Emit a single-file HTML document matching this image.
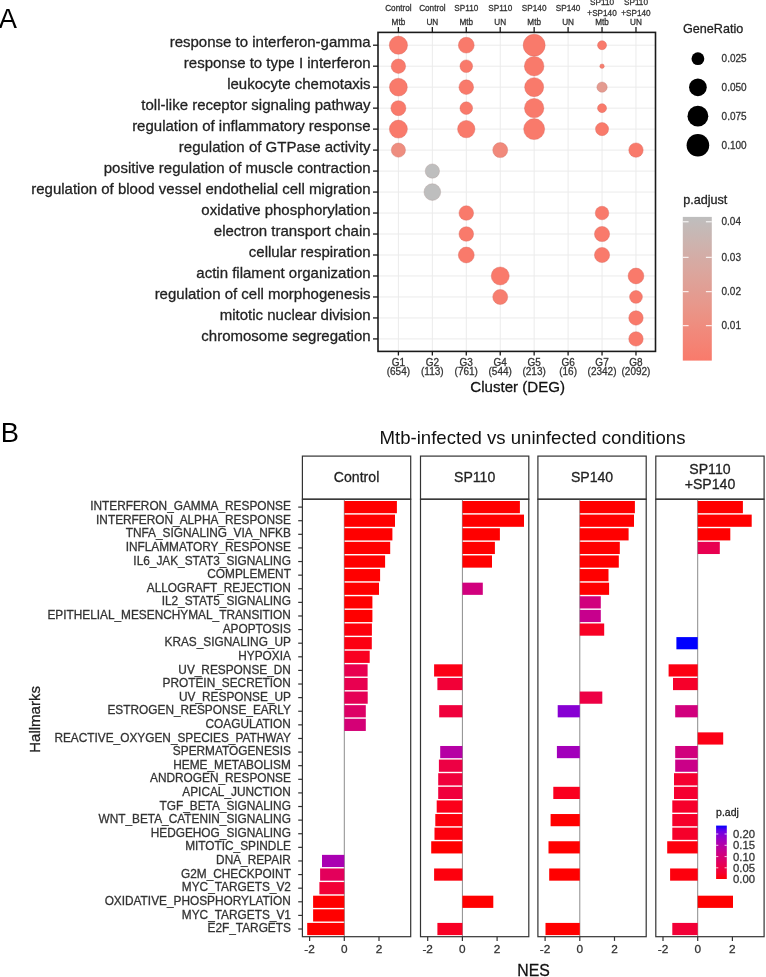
<!DOCTYPE html>
<html><head><meta charset="utf-8"><style>
html,body{margin:0;padding:0;background:#fff;width:766px;height:977px;overflow:hidden}
svg{display:block;will-change:transform}
text{stroke-width:0.28px}
</style></head><body>
<svg width="766" height="977" viewBox="0 0 766 977"><line x1="398.40" y1="32.4" x2="398.40" y2="351.4" stroke="#ebebeb" stroke-width="1"/>
<line x1="432.34" y1="32.4" x2="432.34" y2="351.4" stroke="#ebebeb" stroke-width="1"/>
<line x1="466.28" y1="32.4" x2="466.28" y2="351.4" stroke="#ebebeb" stroke-width="1"/>
<line x1="500.22" y1="32.4" x2="500.22" y2="351.4" stroke="#ebebeb" stroke-width="1"/>
<line x1="534.16" y1="32.4" x2="534.16" y2="351.4" stroke="#ebebeb" stroke-width="1"/>
<line x1="568.10" y1="32.4" x2="568.10" y2="351.4" stroke="#ebebeb" stroke-width="1"/>
<line x1="602.04" y1="32.4" x2="602.04" y2="351.4" stroke="#ebebeb" stroke-width="1"/>
<line x1="635.98" y1="32.4" x2="635.98" y2="351.4" stroke="#ebebeb" stroke-width="1"/>
<line x1="378.0" y1="45.20" x2="655.5" y2="45.20" stroke="#ebebeb" stroke-width="1"/>
<line x1="378.0" y1="66.18" x2="655.5" y2="66.18" stroke="#ebebeb" stroke-width="1"/>
<line x1="378.0" y1="87.16" x2="655.5" y2="87.16" stroke="#ebebeb" stroke-width="1"/>
<line x1="378.0" y1="108.14" x2="655.5" y2="108.14" stroke="#ebebeb" stroke-width="1"/>
<line x1="378.0" y1="129.12" x2="655.5" y2="129.12" stroke="#ebebeb" stroke-width="1"/>
<line x1="378.0" y1="150.10" x2="655.5" y2="150.10" stroke="#ebebeb" stroke-width="1"/>
<line x1="378.0" y1="171.08" x2="655.5" y2="171.08" stroke="#ebebeb" stroke-width="1"/>
<line x1="378.0" y1="192.06" x2="655.5" y2="192.06" stroke="#ebebeb" stroke-width="1"/>
<line x1="378.0" y1="213.04" x2="655.5" y2="213.04" stroke="#ebebeb" stroke-width="1"/>
<line x1="378.0" y1="234.02" x2="655.5" y2="234.02" stroke="#ebebeb" stroke-width="1"/>
<line x1="378.0" y1="255.00" x2="655.5" y2="255.00" stroke="#ebebeb" stroke-width="1"/>
<line x1="378.0" y1="275.98" x2="655.5" y2="275.98" stroke="#ebebeb" stroke-width="1"/>
<line x1="378.0" y1="296.96" x2="655.5" y2="296.96" stroke="#ebebeb" stroke-width="1"/>
<line x1="378.0" y1="317.94" x2="655.5" y2="317.94" stroke="#ebebeb" stroke-width="1"/>
<line x1="378.0" y1="338.92" x2="655.5" y2="338.92" stroke="#ebebeb" stroke-width="1"/>
<circle cx="398.40" cy="45.20" r="9.10" fill="#f97a6b" stroke="#d96b60" stroke-width="0.6" stroke-opacity="0.7"/>
<circle cx="398.40" cy="66.18" r="7.20" fill="#f97a6b" stroke="#d96b60" stroke-width="0.6" stroke-opacity="0.7"/>
<circle cx="398.40" cy="87.16" r="8.90" fill="#f97a6b" stroke="#d96b60" stroke-width="0.6" stroke-opacity="0.7"/>
<circle cx="398.40" cy="108.14" r="7.50" fill="#f97a6b" stroke="#d96b60" stroke-width="0.6" stroke-opacity="0.7"/>
<circle cx="398.40" cy="129.12" r="9.00" fill="#f97a6b" stroke="#d96b60" stroke-width="0.6" stroke-opacity="0.7"/>
<circle cx="398.40" cy="150.10" r="7.10" fill="#ee8d7f" stroke="#d1796f" stroke-width="0.6" stroke-opacity="0.7"/>
<circle cx="432.34" cy="171.08" r="7.15" fill="#bebebe" stroke="#b19e9c" stroke-width="0.6" stroke-opacity="0.7"/>
<circle cx="432.34" cy="192.06" r="8.35" fill="#bebebe" stroke="#b19e9c" stroke-width="0.6" stroke-opacity="0.7"/>
<circle cx="466.28" cy="45.20" r="7.90" fill="#f97a6b" stroke="#d96b60" stroke-width="0.6" stroke-opacity="0.7"/>
<circle cx="466.28" cy="66.18" r="6.30" fill="#f97a6b" stroke="#d96b60" stroke-width="0.6" stroke-opacity="0.7"/>
<circle cx="466.28" cy="87.16" r="7.30" fill="#f97a6b" stroke="#d96b60" stroke-width="0.6" stroke-opacity="0.7"/>
<circle cx="466.28" cy="108.14" r="6.30" fill="#f97a6b" stroke="#d96b60" stroke-width="0.6" stroke-opacity="0.7"/>
<circle cx="466.28" cy="129.12" r="8.70" fill="#f97a6b" stroke="#d96b60" stroke-width="0.6" stroke-opacity="0.7"/>
<circle cx="466.28" cy="213.04" r="7.30" fill="#f97a6b" stroke="#d96b60" stroke-width="0.6" stroke-opacity="0.7"/>
<circle cx="466.28" cy="234.02" r="7.30" fill="#f97a6b" stroke="#d96b60" stroke-width="0.6" stroke-opacity="0.7"/>
<circle cx="466.28" cy="255.00" r="7.95" fill="#f97a6b" stroke="#d96b60" stroke-width="0.6" stroke-opacity="0.7"/>
<circle cx="500.22" cy="150.10" r="7.50" fill="#f1897b" stroke="#d4766c" stroke-width="0.6" stroke-opacity="0.7"/>
<circle cx="500.22" cy="275.98" r="9.00" fill="#f97a6b" stroke="#d96b60" stroke-width="0.6" stroke-opacity="0.7"/>
<circle cx="500.22" cy="296.96" r="7.50" fill="#f77e6f" stroke="#d86e63" stroke-width="0.6" stroke-opacity="0.7"/>
<circle cx="534.16" cy="45.20" r="11.00" fill="#f97a6b" stroke="#d96b60" stroke-width="0.6" stroke-opacity="0.7"/>
<circle cx="534.16" cy="66.18" r="9.80" fill="#f97a6b" stroke="#d96b60" stroke-width="0.6" stroke-opacity="0.7"/>
<circle cx="534.16" cy="87.16" r="9.50" fill="#f97a6b" stroke="#d96b60" stroke-width="0.6" stroke-opacity="0.7"/>
<circle cx="534.16" cy="108.14" r="9.70" fill="#f97a6b" stroke="#d96b60" stroke-width="0.6" stroke-opacity="0.7"/>
<circle cx="534.16" cy="129.12" r="10.50" fill="#f97a6b" stroke="#d96b60" stroke-width="0.6" stroke-opacity="0.7"/>
<circle cx="602.04" cy="45.20" r="4.50" fill="#f97a6b" stroke="#d96b60" stroke-width="0.6" stroke-opacity="0.7"/>
<circle cx="602.04" cy="66.18" r="2.20" fill="#f77e6f" stroke="#d86e63" stroke-width="0.6" stroke-opacity="0.7"/>
<circle cx="602.04" cy="87.16" r="5.15" fill="#e49b90" stroke="#ca837b" stroke-width="0.6" stroke-opacity="0.7"/>
<circle cx="602.04" cy="108.14" r="4.50" fill="#f97a6b" stroke="#d96b60" stroke-width="0.6" stroke-opacity="0.7"/>
<circle cx="602.04" cy="129.12" r="6.55" fill="#f97a6b" stroke="#d96b60" stroke-width="0.6" stroke-opacity="0.7"/>
<circle cx="602.04" cy="213.04" r="6.80" fill="#f97a6b" stroke="#d96b60" stroke-width="0.6" stroke-opacity="0.7"/>
<circle cx="602.04" cy="234.02" r="7.60" fill="#f97a6b" stroke="#d96b60" stroke-width="0.6" stroke-opacity="0.7"/>
<circle cx="602.04" cy="255.00" r="7.60" fill="#f97a6b" stroke="#d96b60" stroke-width="0.6" stroke-opacity="0.7"/>
<circle cx="635.98" cy="150.10" r="7.20" fill="#f97a6b" stroke="#d96b60" stroke-width="0.6" stroke-opacity="0.7"/>
<circle cx="635.98" cy="275.98" r="7.90" fill="#f97a6b" stroke="#d96b60" stroke-width="0.6" stroke-opacity="0.7"/>
<circle cx="635.98" cy="296.96" r="6.40" fill="#f97a6b" stroke="#d96b60" stroke-width="0.6" stroke-opacity="0.7"/>
<circle cx="635.98" cy="317.94" r="7.20" fill="#f97a6b" stroke="#d96b60" stroke-width="0.6" stroke-opacity="0.7"/>
<circle cx="635.98" cy="338.92" r="7.20" fill="#f97a6b" stroke="#d96b60" stroke-width="0.6" stroke-opacity="0.7"/>
<rect x="378.0" y="32.4" width="277.5" height="319.0" fill="none" stroke="#1a1a1a" stroke-width="1.6"/>
<line x1="373" y1="45.20" x2="378.0" y2="45.20" stroke="#1a1a1a" stroke-width="1.3"/>
<line x1="373" y1="66.18" x2="378.0" y2="66.18" stroke="#1a1a1a" stroke-width="1.3"/>
<line x1="373" y1="87.16" x2="378.0" y2="87.16" stroke="#1a1a1a" stroke-width="1.3"/>
<line x1="373" y1="108.14" x2="378.0" y2="108.14" stroke="#1a1a1a" stroke-width="1.3"/>
<line x1="373" y1="129.12" x2="378.0" y2="129.12" stroke="#1a1a1a" stroke-width="1.3"/>
<line x1="373" y1="150.10" x2="378.0" y2="150.10" stroke="#1a1a1a" stroke-width="1.3"/>
<line x1="373" y1="171.08" x2="378.0" y2="171.08" stroke="#1a1a1a" stroke-width="1.3"/>
<line x1="373" y1="192.06" x2="378.0" y2="192.06" stroke="#1a1a1a" stroke-width="1.3"/>
<line x1="373" y1="213.04" x2="378.0" y2="213.04" stroke="#1a1a1a" stroke-width="1.3"/>
<line x1="373" y1="234.02" x2="378.0" y2="234.02" stroke="#1a1a1a" stroke-width="1.3"/>
<line x1="373" y1="255.00" x2="378.0" y2="255.00" stroke="#1a1a1a" stroke-width="1.3"/>
<line x1="373" y1="275.98" x2="378.0" y2="275.98" stroke="#1a1a1a" stroke-width="1.3"/>
<line x1="373" y1="296.96" x2="378.0" y2="296.96" stroke="#1a1a1a" stroke-width="1.3"/>
<line x1="373" y1="317.94" x2="378.0" y2="317.94" stroke="#1a1a1a" stroke-width="1.3"/>
<line x1="373" y1="338.92" x2="378.0" y2="338.92" stroke="#1a1a1a" stroke-width="1.3"/>
<line x1="398.40" y1="27" x2="398.40" y2="32.4" stroke="#1a1a1a" stroke-width="1.3"/>
<line x1="398.40" y1="351.4" x2="398.40" y2="355.5" stroke="#1a1a1a" stroke-width="1.3"/>
<line x1="432.34" y1="27" x2="432.34" y2="32.4" stroke="#1a1a1a" stroke-width="1.3"/>
<line x1="432.34" y1="351.4" x2="432.34" y2="355.5" stroke="#1a1a1a" stroke-width="1.3"/>
<line x1="466.28" y1="27" x2="466.28" y2="32.4" stroke="#1a1a1a" stroke-width="1.3"/>
<line x1="466.28" y1="351.4" x2="466.28" y2="355.5" stroke="#1a1a1a" stroke-width="1.3"/>
<line x1="500.22" y1="27" x2="500.22" y2="32.4" stroke="#1a1a1a" stroke-width="1.3"/>
<line x1="500.22" y1="351.4" x2="500.22" y2="355.5" stroke="#1a1a1a" stroke-width="1.3"/>
<line x1="534.16" y1="27" x2="534.16" y2="32.4" stroke="#1a1a1a" stroke-width="1.3"/>
<line x1="534.16" y1="351.4" x2="534.16" y2="355.5" stroke="#1a1a1a" stroke-width="1.3"/>
<line x1="568.10" y1="27" x2="568.10" y2="32.4" stroke="#1a1a1a" stroke-width="1.3"/>
<line x1="568.10" y1="351.4" x2="568.10" y2="355.5" stroke="#1a1a1a" stroke-width="1.3"/>
<line x1="602.04" y1="27" x2="602.04" y2="32.4" stroke="#1a1a1a" stroke-width="1.3"/>
<line x1="602.04" y1="351.4" x2="602.04" y2="355.5" stroke="#1a1a1a" stroke-width="1.3"/>
<line x1="635.98" y1="27" x2="635.98" y2="32.4" stroke="#1a1a1a" stroke-width="1.3"/>
<line x1="635.98" y1="351.4" x2="635.98" y2="355.5" stroke="#1a1a1a" stroke-width="1.3"/>
<text x="370.6" y="47.20" text-anchor="end" font-size="15" fill="#222" stroke="#222" font-family="Liberation Sans, sans-serif">response to interferon-gamma</text>
<text x="370.6" y="68.18" text-anchor="end" font-size="15" fill="#222" stroke="#222" font-family="Liberation Sans, sans-serif">response to type I interferon</text>
<text x="370.6" y="89.16" text-anchor="end" font-size="15" fill="#222" stroke="#222" font-family="Liberation Sans, sans-serif">leukocyte chemotaxis</text>
<text x="370.6" y="110.14" text-anchor="end" font-size="15" fill="#222" stroke="#222" font-family="Liberation Sans, sans-serif">toll-like receptor signaling pathway</text>
<text x="370.6" y="131.12" text-anchor="end" font-size="15" fill="#222" stroke="#222" font-family="Liberation Sans, sans-serif">regulation of inflammatory response</text>
<text x="370.6" y="152.10" text-anchor="end" font-size="15" fill="#222" stroke="#222" font-family="Liberation Sans, sans-serif">regulation of GTPase activity</text>
<text x="370.6" y="173.08" text-anchor="end" font-size="15" fill="#222" stroke="#222" font-family="Liberation Sans, sans-serif">positive regulation of muscle contraction</text>
<text x="370.6" y="194.06" text-anchor="end" font-size="15" fill="#222" stroke="#222" font-family="Liberation Sans, sans-serif">regulation of blood vessel endothelial cell migration</text>
<text x="370.6" y="215.04" text-anchor="end" font-size="15" fill="#222" stroke="#222" font-family="Liberation Sans, sans-serif">oxidative phosphorylation</text>
<text x="370.6" y="236.02" text-anchor="end" font-size="15" fill="#222" stroke="#222" font-family="Liberation Sans, sans-serif">electron transport chain</text>
<text x="370.6" y="257.00" text-anchor="end" font-size="15" fill="#222" stroke="#222" font-family="Liberation Sans, sans-serif">cellular respiration</text>
<text x="370.6" y="277.98" text-anchor="end" font-size="15" fill="#222" stroke="#222" font-family="Liberation Sans, sans-serif">actin filament organization</text>
<text x="370.6" y="298.96" text-anchor="end" font-size="15" fill="#222" stroke="#222" font-family="Liberation Sans, sans-serif">regulation of cell morphogenesis</text>
<text x="370.6" y="319.94" text-anchor="end" font-size="15" fill="#222" stroke="#222" font-family="Liberation Sans, sans-serif">mitotic nuclear division</text>
<text x="370.6" y="340.92" text-anchor="end" font-size="15" fill="#222" stroke="#222" font-family="Liberation Sans, sans-serif">chromosome segregation</text>
<text x="398.40" y="10.9" text-anchor="middle" font-size="8.2" fill="#333" stroke="#333" font-family="Liberation Sans, sans-serif">Control</text>
<text x="398.40" y="25.2" text-anchor="middle" font-size="8.2" fill="#333" stroke="#333" font-family="Liberation Sans, sans-serif">Mtb</text>
<text x="432.34" y="10.9" text-anchor="middle" font-size="8.2" fill="#333" stroke="#333" font-family="Liberation Sans, sans-serif">Control</text>
<text x="432.34" y="25.2" text-anchor="middle" font-size="8.2" fill="#333" stroke="#333" font-family="Liberation Sans, sans-serif">UN</text>
<text x="466.28" y="10.9" text-anchor="middle" font-size="8.2" fill="#333" stroke="#333" font-family="Liberation Sans, sans-serif">SP110</text>
<text x="466.28" y="25.2" text-anchor="middle" font-size="8.2" fill="#333" stroke="#333" font-family="Liberation Sans, sans-serif">Mtb</text>
<text x="500.22" y="10.9" text-anchor="middle" font-size="8.2" fill="#333" stroke="#333" font-family="Liberation Sans, sans-serif">SP110</text>
<text x="500.22" y="25.2" text-anchor="middle" font-size="8.2" fill="#333" stroke="#333" font-family="Liberation Sans, sans-serif">UN</text>
<text x="534.16" y="10.9" text-anchor="middle" font-size="8.2" fill="#333" stroke="#333" font-family="Liberation Sans, sans-serif">SP140</text>
<text x="534.16" y="25.2" text-anchor="middle" font-size="8.2" fill="#333" stroke="#333" font-family="Liberation Sans, sans-serif">Mtb</text>
<text x="568.10" y="10.9" text-anchor="middle" font-size="8.2" fill="#333" stroke="#333" font-family="Liberation Sans, sans-serif">SP140</text>
<text x="568.10" y="25.2" text-anchor="middle" font-size="8.2" fill="#333" stroke="#333" font-family="Liberation Sans, sans-serif">UN</text>
<text x="602.04" y="5.4" text-anchor="middle" font-size="8.2" fill="#333" stroke="#333" font-family="Liberation Sans, sans-serif">SP110</text>
<text x="602.04" y="16.4" text-anchor="middle" font-size="8.2" fill="#333" stroke="#333" font-family="Liberation Sans, sans-serif">+SP140</text>
<text x="602.04" y="25.3" text-anchor="middle" font-size="8.2" fill="#333" stroke="#333" font-family="Liberation Sans, sans-serif">Mtb</text>
<text x="635.98" y="5.4" text-anchor="middle" font-size="8.2" fill="#333" stroke="#333" font-family="Liberation Sans, sans-serif">SP110</text>
<text x="635.98" y="16.4" text-anchor="middle" font-size="8.2" fill="#333" stroke="#333" font-family="Liberation Sans, sans-serif">+SP140</text>
<text x="635.98" y="25.3" text-anchor="middle" font-size="8.2" fill="#333" stroke="#333" font-family="Liberation Sans, sans-serif">UN</text>
<text x="398.40" y="366.2" text-anchor="middle" font-size="10" fill="#333" stroke="#333" font-family="Liberation Sans, sans-serif">G1</text>
<text x="398.40" y="375.2" text-anchor="middle" font-size="10" fill="#333" stroke="#333" font-family="Liberation Sans, sans-serif">(654)</text>
<text x="432.34" y="366.2" text-anchor="middle" font-size="10" fill="#333" stroke="#333" font-family="Liberation Sans, sans-serif">G2</text>
<text x="432.34" y="375.2" text-anchor="middle" font-size="10" fill="#333" stroke="#333" font-family="Liberation Sans, sans-serif">(113)</text>
<text x="466.28" y="366.2" text-anchor="middle" font-size="10" fill="#333" stroke="#333" font-family="Liberation Sans, sans-serif">G3</text>
<text x="466.28" y="375.2" text-anchor="middle" font-size="10" fill="#333" stroke="#333" font-family="Liberation Sans, sans-serif">(761)</text>
<text x="500.22" y="366.2" text-anchor="middle" font-size="10" fill="#333" stroke="#333" font-family="Liberation Sans, sans-serif">G4</text>
<text x="500.22" y="375.2" text-anchor="middle" font-size="10" fill="#333" stroke="#333" font-family="Liberation Sans, sans-serif">(544)</text>
<text x="534.16" y="366.2" text-anchor="middle" font-size="10" fill="#333" stroke="#333" font-family="Liberation Sans, sans-serif">G5</text>
<text x="534.16" y="375.2" text-anchor="middle" font-size="10" fill="#333" stroke="#333" font-family="Liberation Sans, sans-serif">(213)</text>
<text x="568.10" y="366.2" text-anchor="middle" font-size="10" fill="#333" stroke="#333" font-family="Liberation Sans, sans-serif">G6</text>
<text x="568.10" y="375.2" text-anchor="middle" font-size="10" fill="#333" stroke="#333" font-family="Liberation Sans, sans-serif">(16)</text>
<text x="602.04" y="366.2" text-anchor="middle" font-size="10" fill="#333" stroke="#333" font-family="Liberation Sans, sans-serif">G7</text>
<text x="602.04" y="375.2" text-anchor="middle" font-size="10" fill="#333" stroke="#333" font-family="Liberation Sans, sans-serif">(2342)</text>
<text x="635.98" y="366.2" text-anchor="middle" font-size="10" fill="#333" stroke="#333" font-family="Liberation Sans, sans-serif">G8</text>
<text x="635.98" y="375.2" text-anchor="middle" font-size="10" fill="#333" stroke="#333" font-family="Liberation Sans, sans-serif">(2092)</text>
<text x="517.7" y="391.8" text-anchor="middle" font-size="15.1" fill="#111" stroke="#111" font-family="Liberation Sans, sans-serif">Cluster (DEG)</text>
<text x="683.0" y="32.8" font-size="12.6" fill="#222" stroke="#222" font-family="Liberation Sans, sans-serif">GeneRatio</text>
<circle cx="697.9" cy="58.7" r="6.4" fill="#000"/>
<text x="721.6" y="62.300000000000004" font-size="10" fill="#333" stroke="#333" font-family="Liberation Sans, sans-serif">0.025</text>
<circle cx="697.9" cy="87.3" r="8.85" fill="#000"/>
<text x="721.6" y="90.89999999999999" font-size="10" fill="#333" stroke="#333" font-family="Liberation Sans, sans-serif">0.050</text>
<circle cx="697.9" cy="116.2" r="10.4" fill="#000"/>
<text x="721.6" y="119.8" font-size="10" fill="#333" stroke="#333" font-family="Liberation Sans, sans-serif">0.075</text>
<circle cx="697.9" cy="145.2" r="11.3" fill="#000"/>
<text x="721.6" y="148.79999999999998" font-size="10" fill="#333" stroke="#333" font-family="Liberation Sans, sans-serif">0.100</text>
<text x="683.2" y="204.3" font-size="12.6" fill="#222" stroke="#222" font-family="Liberation Sans, sans-serif">p.adjust</text>
<defs><linearGradient id="ga" x1="0" y1="1" x2="0" y2="0"><stop offset="0.0" stop-color="#f97a6b"/><stop offset="0.1" stop-color="#f58273"/><stop offset="0.2" stop-color="#f1897b"/><stop offset="0.3" stop-color="#ec9183"/><stop offset="0.4" stop-color="#e7988c"/><stop offset="0.5" stop-color="#e19e94"/><stop offset="0.6" stop-color="#dca59c"/><stop offset="0.7" stop-color="#d5aba4"/><stop offset="0.8" stop-color="#ceb2ad"/><stop offset="0.9" stop-color="#c6b8b5"/><stop offset="1.0" stop-color="#bebebe"/></linearGradient>
<linearGradient id="gb" x1="0" y1="1" x2="0" y2="0"><stop offset="0.0" stop-color="#ff0000"/><stop offset="0.1" stop-color="#f6002a"/><stop offset="0.2" stop-color="#ed0044"/><stop offset="0.3" stop-color="#e3005b"/><stop offset="0.4" stop-color="#d70072"/><stop offset="0.5" stop-color="#ca0088"/><stop offset="0.6" stop-color="#ba009f"/><stop offset="0.7" stop-color="#a600b7"/><stop offset="0.8" stop-color="#8d00ce"/><stop offset="0.9" stop-color="#6800e7"/><stop offset="1.0" stop-color="#0000ff"/></linearGradient></defs>
<rect x="682.8" y="216.9" width="29" height="143.7" fill="url(#ga)"/>
<line x1="682.8" y1="221.8" x2="688.6" y2="221.8" stroke="#fff" stroke-width="1"/>
<line x1="705.9" y1="221.8" x2="711.8" y2="221.8" stroke="#fff" stroke-width="1"/>
<text x="721.5" y="225.4" font-size="10" fill="#333" stroke="#333" font-family="Liberation Sans, sans-serif">0.04</text>
<line x1="682.8" y1="257.3" x2="688.6" y2="257.3" stroke="#fff" stroke-width="1"/>
<line x1="705.9" y1="257.3" x2="711.8" y2="257.3" stroke="#fff" stroke-width="1"/>
<text x="721.5" y="260.90000000000003" font-size="10" fill="#333" stroke="#333" font-family="Liberation Sans, sans-serif">0.03</text>
<line x1="682.8" y1="291.7" x2="688.6" y2="291.7" stroke="#fff" stroke-width="1"/>
<line x1="705.9" y1="291.7" x2="711.8" y2="291.7" stroke="#fff" stroke-width="1"/>
<text x="721.5" y="295.3" font-size="10" fill="#333" stroke="#333" font-family="Liberation Sans, sans-serif">0.02</text>
<line x1="682.8" y1="325.7" x2="688.6" y2="325.7" stroke="#fff" stroke-width="1"/>
<line x1="705.9" y1="325.7" x2="711.8" y2="325.7" stroke="#fff" stroke-width="1"/>
<text x="721.5" y="329.3" font-size="10" fill="#333" stroke="#333" font-family="Liberation Sans, sans-serif">0.01</text>
<text x="-1.2" y="27.9" font-size="27.3" style="stroke:none" fill="#000" stroke="#000" font-family="Liberation Sans, sans-serif">A</text>
<text x="0.8" y="441.8" font-size="27.3" style="stroke:none" fill="#000" stroke="#000" font-family="Liberation Sans, sans-serif">B</text>
<text x="379.5" y="444.3" font-size="18.6" style="stroke:none" fill="#111" stroke="#111" font-family="Liberation Sans, sans-serif">Mtb-infected vs uninfected conditions</text>
<rect x="302.4" y="456.1" width="108.3" height="43.099999999999966" fill="#fff" stroke="#333" stroke-width="1.2"/>
<line x1="344.30" y1="499.2" x2="344.30" y2="936.7" stroke="#8c8c8c" stroke-width="1"/>
<rect x="344.30" y="501.00" width="52.60" height="12.2" fill="#ff0000"/>
<rect x="344.30" y="514.61" width="50.70" height="12.2" fill="#ff0000"/>
<rect x="344.30" y="528.22" width="48.10" height="12.2" fill="#ff0000"/>
<rect x="344.30" y="541.83" width="45.90" height="12.2" fill="#ff0000"/>
<rect x="344.30" y="555.44" width="40.80" height="12.2" fill="#ff0000"/>
<rect x="344.30" y="569.05" width="35.80" height="12.2" fill="#ff0000"/>
<rect x="344.30" y="582.66" width="34.70" height="12.2" fill="#ff0000"/>
<rect x="344.30" y="596.27" width="28.10" height="12.2" fill="#ff0000"/>
<rect x="344.30" y="609.88" width="28.10" height="12.2" fill="#ff0000"/>
<rect x="344.30" y="623.49" width="27.60" height="12.2" fill="#fd000d"/>
<rect x="344.30" y="637.10" width="27.50" height="12.2" fill="#fc0012"/>
<rect x="344.30" y="650.71" width="25.40" height="12.2" fill="#f90021"/>
<rect x="344.30" y="664.32" width="23.30" height="12.2" fill="#e80050"/>
<rect x="344.30" y="677.93" width="23.30" height="12.2" fill="#e80050"/>
<rect x="344.30" y="691.54" width="23.40" height="12.2" fill="#e50056"/>
<rect x="344.30" y="705.15" width="21.50" height="12.2" fill="#dd0066"/>
<rect x="344.30" y="718.76" width="21.50" height="12.2" fill="#d40076"/>
<rect x="322.00" y="854.86" width="22.30" height="12.2" fill="#aa00b2"/>
<rect x="320.10" y="868.47" width="24.20" height="12.2" fill="#e3005b"/>
<rect x="319.40" y="882.08" width="24.90" height="12.2" fill="#f20037"/>
<rect x="313.10" y="895.69" width="31.20" height="12.2" fill="#ff0000"/>
<rect x="313.10" y="909.30" width="31.20" height="12.2" fill="#ff0000"/>
<rect x="307.20" y="922.91" width="37.10" height="12.2" fill="#ff0000"/>
<rect x="302.4" y="499.2" width="108.3" height="437.50000000000006" fill="none" stroke="#333" stroke-width="1.2"/>
<line x1="309.60" y1="936.7" x2="309.60" y2="940.9" stroke="#333" stroke-width="1.2"/>
<text x="309.60" y="953.2" text-anchor="middle" font-size="11.8" fill="#333" stroke="#333" font-family="Liberation Sans, sans-serif">-2</text>
<line x1="344.30" y1="936.7" x2="344.30" y2="940.9" stroke="#333" stroke-width="1.2"/>
<text x="344.30" y="953.2" text-anchor="middle" font-size="11.8" fill="#333" stroke="#333" font-family="Liberation Sans, sans-serif">0</text>
<line x1="379.00" y1="936.7" x2="379.00" y2="940.9" stroke="#333" stroke-width="1.2"/>
<text x="379.00" y="953.2" text-anchor="middle" font-size="11.8" fill="#333" stroke="#333" font-family="Liberation Sans, sans-serif">2</text>
<rect x="420.5" y="456.1" width="108.3" height="43.099999999999966" fill="#fff" stroke="#333" stroke-width="1.2"/>
<line x1="462.40" y1="499.2" x2="462.40" y2="936.7" stroke="#8c8c8c" stroke-width="1"/>
<rect x="462.40" y="501.00" width="57.50" height="12.2" fill="#ff0000"/>
<rect x="462.40" y="514.61" width="61.60" height="12.2" fill="#ff0000"/>
<rect x="462.40" y="528.22" width="37.50" height="12.2" fill="#ff0000"/>
<rect x="462.40" y="541.83" width="32.50" height="12.2" fill="#ff0000"/>
<rect x="462.40" y="555.44" width="29.60" height="12.2" fill="#ff0000"/>
<rect x="462.40" y="582.66" width="20.40" height="12.2" fill="#d1007d"/>
<rect x="434.10" y="664.32" width="28.30" height="12.2" fill="#fc0016"/>
<rect x="437.40" y="677.93" width="25.00" height="12.2" fill="#f20037"/>
<rect x="439.20" y="705.15" width="23.20" height="12.2" fill="#f0003c"/>
<rect x="440.20" y="745.98" width="22.20" height="12.2" fill="#b600a4"/>
<rect x="438.90" y="759.59" width="23.50" height="12.2" fill="#ed0044"/>
<rect x="438.20" y="773.20" width="24.20" height="12.2" fill="#f0003c"/>
<rect x="438.20" y="786.81" width="24.20" height="12.2" fill="#f0003c"/>
<rect x="436.70" y="800.42" width="25.70" height="12.2" fill="#fb001a"/>
<rect x="435.30" y="814.03" width="27.10" height="12.2" fill="#fd000d"/>
<rect x="434.50" y="827.64" width="27.90" height="12.2" fill="#fd000d"/>
<rect x="431.20" y="841.25" width="31.20" height="12.2" fill="#ff0000"/>
<rect x="434.10" y="868.47" width="28.30" height="12.2" fill="#fd000d"/>
<rect x="462.40" y="895.69" width="30.90" height="12.2" fill="#ff0000"/>
<rect x="437.40" y="922.91" width="25.00" height="12.2" fill="#f80024"/>
<rect x="420.5" y="499.2" width="108.3" height="437.50000000000006" fill="none" stroke="#333" stroke-width="1.2"/>
<line x1="427.70" y1="936.7" x2="427.70" y2="940.9" stroke="#333" stroke-width="1.2"/>
<text x="427.70" y="953.2" text-anchor="middle" font-size="11.8" fill="#333" stroke="#333" font-family="Liberation Sans, sans-serif">-2</text>
<line x1="462.40" y1="936.7" x2="462.40" y2="940.9" stroke="#333" stroke-width="1.2"/>
<text x="462.40" y="953.2" text-anchor="middle" font-size="11.8" fill="#333" stroke="#333" font-family="Liberation Sans, sans-serif">0</text>
<line x1="497.10" y1="936.7" x2="497.10" y2="940.9" stroke="#333" stroke-width="1.2"/>
<text x="497.10" y="953.2" text-anchor="middle" font-size="11.8" fill="#333" stroke="#333" font-family="Liberation Sans, sans-serif">2</text>
<rect x="537.9" y="456.1" width="108.3" height="43.099999999999966" fill="#fff" stroke="#333" stroke-width="1.2"/>
<line x1="579.80" y1="499.2" x2="579.80" y2="936.7" stroke="#8c8c8c" stroke-width="1"/>
<rect x="579.80" y="501.00" width="55.10" height="12.2" fill="#ff0000"/>
<rect x="579.80" y="514.61" width="54.20" height="12.2" fill="#ff0000"/>
<rect x="579.80" y="528.22" width="48.80" height="12.2" fill="#ff0000"/>
<rect x="579.80" y="541.83" width="40.00" height="12.2" fill="#ff0000"/>
<rect x="579.80" y="555.44" width="39.00" height="12.2" fill="#ff0000"/>
<rect x="579.80" y="569.05" width="28.70" height="12.2" fill="#ff0000"/>
<rect x="579.80" y="582.66" width="29.30" height="12.2" fill="#ff0000"/>
<rect x="579.80" y="596.27" width="21.00" height="12.2" fill="#d1007d"/>
<rect x="579.80" y="609.88" width="21.00" height="12.2" fill="#c7008d"/>
<rect x="579.80" y="623.49" width="24.40" height="12.2" fill="#f80024"/>
<rect x="579.80" y="691.54" width="22.50" height="12.2" fill="#ed0044"/>
<rect x="557.70" y="705.15" width="22.10" height="12.2" fill="#8700d3"/>
<rect x="556.90" y="745.98" width="22.90" height="12.2" fill="#a200bb"/>
<rect x="553.30" y="786.81" width="26.50" height="12.2" fill="#fa001e"/>
<rect x="550.60" y="814.03" width="29.20" height="12.2" fill="#ff0000"/>
<rect x="548.50" y="841.25" width="31.30" height="12.2" fill="#ff0000"/>
<rect x="549.20" y="868.47" width="30.60" height="12.2" fill="#ff0000"/>
<rect x="545.50" y="922.91" width="34.30" height="12.2" fill="#ff0000"/>
<rect x="537.9" y="499.2" width="108.3" height="437.50000000000006" fill="none" stroke="#333" stroke-width="1.2"/>
<line x1="545.10" y1="936.7" x2="545.10" y2="940.9" stroke="#333" stroke-width="1.2"/>
<text x="545.10" y="953.2" text-anchor="middle" font-size="11.8" fill="#333" stroke="#333" font-family="Liberation Sans, sans-serif">-2</text>
<line x1="579.80" y1="936.7" x2="579.80" y2="940.9" stroke="#333" stroke-width="1.2"/>
<text x="579.80" y="953.2" text-anchor="middle" font-size="11.8" fill="#333" stroke="#333" font-family="Liberation Sans, sans-serif">0</text>
<line x1="614.50" y1="936.7" x2="614.50" y2="940.9" stroke="#333" stroke-width="1.2"/>
<text x="614.50" y="953.2" text-anchor="middle" font-size="11.8" fill="#333" stroke="#333" font-family="Liberation Sans, sans-serif">2</text>
<rect x="655.8" y="456.1" width="108.3" height="43.099999999999966" fill="#fff" stroke="#333" stroke-width="1.2"/>
<line x1="697.70" y1="499.2" x2="697.70" y2="936.7" stroke="#8c8c8c" stroke-width="1"/>
<rect x="697.70" y="501.00" width="45.20" height="12.2" fill="#ff0000"/>
<rect x="697.70" y="514.61" width="54.00" height="12.2" fill="#ff0000"/>
<rect x="697.70" y="528.22" width="32.60" height="12.2" fill="#ff0000"/>
<rect x="697.70" y="541.83" width="22.10" height="12.2" fill="#e80050"/>
<rect x="676.40" y="637.10" width="21.30" height="12.2" fill="#0000ff"/>
<rect x="668.60" y="664.32" width="29.10" height="12.2" fill="#fc0012"/>
<rect x="673.00" y="677.93" width="24.70" height="12.2" fill="#f6002a"/>
<rect x="675.20" y="705.15" width="22.50" height="12.2" fill="#d1007d"/>
<rect x="697.70" y="732.37" width="25.50" height="12.2" fill="#fc0016"/>
<rect x="675.20" y="745.98" width="22.50" height="12.2" fill="#d1007d"/>
<rect x="675.20" y="759.59" width="22.50" height="12.2" fill="#ca0088"/>
<rect x="674.00" y="773.20" width="23.70" height="12.2" fill="#f50030"/>
<rect x="674.00" y="786.81" width="23.70" height="12.2" fill="#f50030"/>
<rect x="672.30" y="800.42" width="25.40" height="12.2" fill="#f6002a"/>
<rect x="672.30" y="814.03" width="25.40" height="12.2" fill="#f6002a"/>
<rect x="672.30" y="827.64" width="25.40" height="12.2" fill="#f6002a"/>
<rect x="667.20" y="841.25" width="30.50" height="12.2" fill="#fd000d"/>
<rect x="670.10" y="868.47" width="27.60" height="12.2" fill="#fd000d"/>
<rect x="697.70" y="895.69" width="35.30" height="12.2" fill="#ff0000"/>
<rect x="672.30" y="922.91" width="25.40" height="12.2" fill="#f20037"/>
<rect x="655.8" y="499.2" width="108.3" height="437.50000000000006" fill="none" stroke="#333" stroke-width="1.2"/>
<line x1="663.00" y1="936.7" x2="663.00" y2="940.9" stroke="#333" stroke-width="1.2"/>
<text x="663.00" y="953.2" text-anchor="middle" font-size="11.8" fill="#333" stroke="#333" font-family="Liberation Sans, sans-serif">-2</text>
<line x1="697.70" y1="936.7" x2="697.70" y2="940.9" stroke="#333" stroke-width="1.2"/>
<text x="697.70" y="953.2" text-anchor="middle" font-size="11.8" fill="#333" stroke="#333" font-family="Liberation Sans, sans-serif">0</text>
<line x1="732.40" y1="936.7" x2="732.40" y2="940.9" stroke="#333" stroke-width="1.2"/>
<text x="732.40" y="953.2" text-anchor="middle" font-size="11.8" fill="#333" stroke="#333" font-family="Liberation Sans, sans-serif">2</text>
<text x="356.55" y="481.5" text-anchor="middle" font-size="14.1" fill="#222" stroke="#222" font-family="Liberation Sans, sans-serif">Control</text>
<text x="474.65" y="481.5" text-anchor="middle" font-size="14.1" fill="#222" stroke="#222" font-family="Liberation Sans, sans-serif">SP110</text>
<text x="592.05" y="481.5" text-anchor="middle" font-size="14.1" fill="#222" stroke="#222" font-family="Liberation Sans, sans-serif">SP140</text>
<text x="709.95" y="473.6" text-anchor="middle" font-size="14.1" fill="#222" stroke="#222" font-family="Liberation Sans, sans-serif">SP110</text>
<text x="709.95" y="489.2" text-anchor="middle" font-size="14.1" fill="#222" stroke="#222" font-family="Liberation Sans, sans-serif">+SP140</text>
<line x1="298.2" y1="507.10" x2="302.4" y2="507.10" stroke="#333" stroke-width="1.2"/>
<text x="290.9" y="510.20" text-anchor="end" font-size="11.85" fill="#333" stroke="#333" font-family="Liberation Sans, sans-serif">INTERFERON_GAMMA_RESPONSE</text>
<line x1="298.2" y1="520.71" x2="302.4" y2="520.71" stroke="#333" stroke-width="1.2"/>
<text x="290.9" y="523.81" text-anchor="end" font-size="11.85" fill="#333" stroke="#333" font-family="Liberation Sans, sans-serif">INTERFERON_ALPHA_RESPONSE</text>
<line x1="298.2" y1="534.32" x2="302.4" y2="534.32" stroke="#333" stroke-width="1.2"/>
<text x="290.9" y="537.42" text-anchor="end" font-size="11.85" fill="#333" stroke="#333" font-family="Liberation Sans, sans-serif">TNFA_SIGNALING_VIA_NFKB</text>
<line x1="298.2" y1="547.93" x2="302.4" y2="547.93" stroke="#333" stroke-width="1.2"/>
<text x="290.9" y="551.03" text-anchor="end" font-size="11.85" fill="#333" stroke="#333" font-family="Liberation Sans, sans-serif">INFLAMMATORY_RESPONSE</text>
<line x1="298.2" y1="561.54" x2="302.4" y2="561.54" stroke="#333" stroke-width="1.2"/>
<text x="290.9" y="564.64" text-anchor="end" font-size="11.85" fill="#333" stroke="#333" font-family="Liberation Sans, sans-serif">IL6_JAK_STAT3_SIGNALING</text>
<line x1="298.2" y1="575.15" x2="302.4" y2="575.15" stroke="#333" stroke-width="1.2"/>
<text x="290.9" y="578.25" text-anchor="end" font-size="11.85" fill="#333" stroke="#333" font-family="Liberation Sans, sans-serif">COMPLEMENT</text>
<line x1="298.2" y1="588.76" x2="302.4" y2="588.76" stroke="#333" stroke-width="1.2"/>
<text x="290.9" y="591.86" text-anchor="end" font-size="11.85" fill="#333" stroke="#333" font-family="Liberation Sans, sans-serif">ALLOGRAFT_REJECTION</text>
<line x1="298.2" y1="602.37" x2="302.4" y2="602.37" stroke="#333" stroke-width="1.2"/>
<text x="290.9" y="605.47" text-anchor="end" font-size="11.85" fill="#333" stroke="#333" font-family="Liberation Sans, sans-serif">IL2_STAT5_SIGNALING</text>
<line x1="298.2" y1="615.98" x2="302.4" y2="615.98" stroke="#333" stroke-width="1.2"/>
<text x="290.9" y="619.08" text-anchor="end" font-size="11.85" fill="#333" stroke="#333" font-family="Liberation Sans, sans-serif">EPITHELIAL_MESENCHYMAL_TRANSITION</text>
<line x1="298.2" y1="629.59" x2="302.4" y2="629.59" stroke="#333" stroke-width="1.2"/>
<text x="290.9" y="632.69" text-anchor="end" font-size="11.85" fill="#333" stroke="#333" font-family="Liberation Sans, sans-serif">APOPTOSIS</text>
<line x1="298.2" y1="643.20" x2="302.4" y2="643.20" stroke="#333" stroke-width="1.2"/>
<text x="290.9" y="646.30" text-anchor="end" font-size="11.85" fill="#333" stroke="#333" font-family="Liberation Sans, sans-serif">KRAS_SIGNALING_UP</text>
<line x1="298.2" y1="656.81" x2="302.4" y2="656.81" stroke="#333" stroke-width="1.2"/>
<text x="290.9" y="659.91" text-anchor="end" font-size="11.85" fill="#333" stroke="#333" font-family="Liberation Sans, sans-serif">HYPOXIA</text>
<line x1="298.2" y1="670.42" x2="302.4" y2="670.42" stroke="#333" stroke-width="1.2"/>
<text x="290.9" y="673.52" text-anchor="end" font-size="11.85" fill="#333" stroke="#333" font-family="Liberation Sans, sans-serif">UV_RESPONSE_DN</text>
<line x1="298.2" y1="684.03" x2="302.4" y2="684.03" stroke="#333" stroke-width="1.2"/>
<text x="290.9" y="687.13" text-anchor="end" font-size="11.85" fill="#333" stroke="#333" font-family="Liberation Sans, sans-serif">PROTEIN_SECRETION</text>
<line x1="298.2" y1="697.64" x2="302.4" y2="697.64" stroke="#333" stroke-width="1.2"/>
<text x="290.9" y="700.74" text-anchor="end" font-size="11.85" fill="#333" stroke="#333" font-family="Liberation Sans, sans-serif">UV_RESPONSE_UP</text>
<line x1="298.2" y1="711.25" x2="302.4" y2="711.25" stroke="#333" stroke-width="1.2"/>
<text x="290.9" y="714.35" text-anchor="end" font-size="11.85" fill="#333" stroke="#333" font-family="Liberation Sans, sans-serif">ESTROGEN_RESPONSE_EARLY</text>
<line x1="298.2" y1="724.86" x2="302.4" y2="724.86" stroke="#333" stroke-width="1.2"/>
<text x="290.9" y="727.96" text-anchor="end" font-size="11.85" fill="#333" stroke="#333" font-family="Liberation Sans, sans-serif">COAGULATION</text>
<line x1="298.2" y1="738.47" x2="302.4" y2="738.47" stroke="#333" stroke-width="1.2"/>
<text x="290.9" y="741.57" text-anchor="end" font-size="11.85" fill="#333" stroke="#333" font-family="Liberation Sans, sans-serif">REACTIVE_OXYGEN_SPECIES_PATHWAY</text>
<line x1="298.2" y1="752.08" x2="302.4" y2="752.08" stroke="#333" stroke-width="1.2"/>
<text x="290.9" y="755.18" text-anchor="end" font-size="11.85" fill="#333" stroke="#333" font-family="Liberation Sans, sans-serif">SPERMATOGENESIS</text>
<line x1="298.2" y1="765.69" x2="302.4" y2="765.69" stroke="#333" stroke-width="1.2"/>
<text x="290.9" y="768.79" text-anchor="end" font-size="11.85" fill="#333" stroke="#333" font-family="Liberation Sans, sans-serif">HEME_METABOLISM</text>
<line x1="298.2" y1="779.30" x2="302.4" y2="779.30" stroke="#333" stroke-width="1.2"/>
<text x="290.9" y="782.40" text-anchor="end" font-size="11.85" fill="#333" stroke="#333" font-family="Liberation Sans, sans-serif">ANDROGEN_RESPONSE</text>
<line x1="298.2" y1="792.91" x2="302.4" y2="792.91" stroke="#333" stroke-width="1.2"/>
<text x="290.9" y="796.01" text-anchor="end" font-size="11.85" fill="#333" stroke="#333" font-family="Liberation Sans, sans-serif">APICAL_JUNCTION</text>
<line x1="298.2" y1="806.52" x2="302.4" y2="806.52" stroke="#333" stroke-width="1.2"/>
<text x="290.9" y="809.62" text-anchor="end" font-size="11.85" fill="#333" stroke="#333" font-family="Liberation Sans, sans-serif">TGF_BETA_SIGNALING</text>
<line x1="298.2" y1="820.13" x2="302.4" y2="820.13" stroke="#333" stroke-width="1.2"/>
<text x="290.9" y="823.23" text-anchor="end" font-size="11.85" fill="#333" stroke="#333" font-family="Liberation Sans, sans-serif">WNT_BETA_CATENIN_SIGNALING</text>
<line x1="298.2" y1="833.74" x2="302.4" y2="833.74" stroke="#333" stroke-width="1.2"/>
<text x="290.9" y="836.84" text-anchor="end" font-size="11.85" fill="#333" stroke="#333" font-family="Liberation Sans, sans-serif">HEDGEHOG_SIGNALING</text>
<line x1="298.2" y1="847.35" x2="302.4" y2="847.35" stroke="#333" stroke-width="1.2"/>
<text x="290.9" y="850.45" text-anchor="end" font-size="11.85" fill="#333" stroke="#333" font-family="Liberation Sans, sans-serif">MITOTIC_SPINDLE</text>
<line x1="298.2" y1="860.96" x2="302.4" y2="860.96" stroke="#333" stroke-width="1.2"/>
<text x="290.9" y="864.06" text-anchor="end" font-size="11.85" fill="#333" stroke="#333" font-family="Liberation Sans, sans-serif">DNA_REPAIR</text>
<line x1="298.2" y1="874.57" x2="302.4" y2="874.57" stroke="#333" stroke-width="1.2"/>
<text x="290.9" y="877.67" text-anchor="end" font-size="11.85" fill="#333" stroke="#333" font-family="Liberation Sans, sans-serif">G2M_CHECKPOINT</text>
<line x1="298.2" y1="888.18" x2="302.4" y2="888.18" stroke="#333" stroke-width="1.2"/>
<text x="290.9" y="891.28" text-anchor="end" font-size="11.85" fill="#333" stroke="#333" font-family="Liberation Sans, sans-serif">MYC_TARGETS_V2</text>
<line x1="298.2" y1="901.79" x2="302.4" y2="901.79" stroke="#333" stroke-width="1.2"/>
<text x="290.9" y="904.89" text-anchor="end" font-size="11.85" fill="#333" stroke="#333" font-family="Liberation Sans, sans-serif">OXIDATIVE_PHOSPHORYLATION</text>
<line x1="298.2" y1="915.40" x2="302.4" y2="915.40" stroke="#333" stroke-width="1.2"/>
<text x="290.9" y="918.50" text-anchor="end" font-size="11.85" fill="#333" stroke="#333" font-family="Liberation Sans, sans-serif">MYC_TARGETS_V1</text>
<line x1="298.2" y1="929.01" x2="302.4" y2="929.01" stroke="#333" stroke-width="1.2"/>
<text x="290.9" y="932.11" text-anchor="end" font-size="11.85" fill="#333" stroke="#333" font-family="Liberation Sans, sans-serif">E2F_TARGETS</text>
<text transform="translate(40,719.4) rotate(-90)" text-anchor="middle" font-size="15" fill="#222" stroke="#222" font-family="Liberation Sans, sans-serif">Hallmarks</text>
<text x="533.6" y="976.2" text-anchor="middle" font-size="15.8" fill="#111" stroke="#111" font-family="Liberation Sans, sans-serif">NES</text>
<text x="716.1" y="815.8" font-size="10.5" fill="#222" stroke="#222" font-family="Liberation Sans, sans-serif">p.adj</text>
<rect x="716.1" y="825.6" width="10.7" height="53.4" fill="url(#gb)"/>
<line x1="716.1" y1="834.0" x2="718.3" y2="834.0" stroke="#fff" stroke-width="0.8"/>
<line x1="724.6" y1="834.0" x2="726.8" y2="834.0" stroke="#fff" stroke-width="0.8"/>
<text x="733" y="838.0" font-size="11.3" fill="#333" stroke="#333" font-family="Liberation Sans, sans-serif">0.20</text>
<line x1="716.1" y1="845.3" x2="718.3" y2="845.3" stroke="#fff" stroke-width="0.8"/>
<line x1="724.6" y1="845.3" x2="726.8" y2="845.3" stroke="#fff" stroke-width="0.8"/>
<text x="733" y="849.3" font-size="11.3" fill="#333" stroke="#333" font-family="Liberation Sans, sans-serif">0.15</text>
<line x1="716.1" y1="856.6" x2="718.3" y2="856.6" stroke="#fff" stroke-width="0.8"/>
<line x1="724.6" y1="856.6" x2="726.8" y2="856.6" stroke="#fff" stroke-width="0.8"/>
<text x="733" y="860.6" font-size="11.3" fill="#333" stroke="#333" font-family="Liberation Sans, sans-serif">0.10</text>
<line x1="716.1" y1="867.8" x2="718.3" y2="867.8" stroke="#fff" stroke-width="0.8"/>
<line x1="724.6" y1="867.8" x2="726.8" y2="867.8" stroke="#fff" stroke-width="0.8"/>
<text x="733" y="871.8" font-size="11.3" fill="#333" stroke="#333" font-family="Liberation Sans, sans-serif">0.05</text>
<text x="733" y="883.0" font-size="11.3" fill="#333" stroke="#333" font-family="Liberation Sans, sans-serif">0.00</text></svg>
</body></html>
